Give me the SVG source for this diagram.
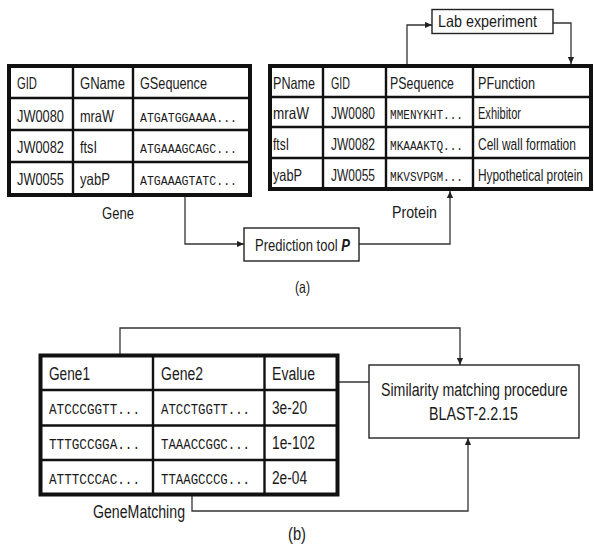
<svg xmlns="http://www.w3.org/2000/svg" width="594" height="547" viewBox="0 0 594 547">
<defs>
<marker id="ah" viewBox="0 0 8 8" refX="8" refY="4" markerWidth="7" markerHeight="7" markerUnits="userSpaceOnUse" orient="auto">
<path d="M0,0.5 L8,4 L0,7.5 Z" fill="#222"/>
</marker>
</defs>
<style>
.bg{fill:#fff}
.tbl{fill:#fff;stroke:#111;stroke-width:4}
.grid{stroke:#111;stroke-width:2.4;fill:none}
.box{fill:#fff;stroke:#222;stroke-width:1.4}
.con{fill:none;stroke:#333;stroke-width:1.3;marker-end:url(#ah)}
.t{font-family:"Liberation Sans",Arial,sans-serif;font-size:16.5px;fill:#1a1a1a}
.tb{font-family:"Liberation Sans",Arial,sans-serif;font-size:18px;fill:#1a1a1a}
.tl{font-family:"Liberation Sans",Arial,sans-serif;font-size:19px;fill:#1a1a1a}
.m{font-family:"Liberation Mono","Courier New",monospace;font-size:13px;fill:#1a1a1a}
.ms{font-family:"Liberation Mono","Courier New",monospace;font-size:12px;fill:#1a1a1a}
.mb{font-family:"Liberation Mono","Courier New",monospace;font-size:15px;fill:#1a1a1a}
</style>
<rect class="bg" x="0" y="0" width="594" height="547"/>

<g id="connectors">
<polyline class="con" points="185,196 185,244 244,244"/>
<polyline class="con" points="359,244 450,244 450,191"/>
<polyline class="con" points="407,64 407,25 432,25"/>
<polyline class="con" points="553,23 571,23 571,64"/>
<polyline class="con" points="120,354 120,328 460,328 460,365"/>
<polyline class="con" points="369,382 323,382"/>
<polyline class="con" points="192,496 192,511 468,511 468,438"/>
</g>

<g id="gene">
<rect class="tbl" x="9" y="66" width="241" height="129"/>
<path class="grid" d="M9,98 H250 M9,130 H250 M9,162 H250 M73,66 V195 M133,66 V195"/>
<text class="t" x="17" y="89" textLength="20" lengthAdjust="spacingAndGlyphs">GID</text>
<text class="t" x="80" y="89" textLength="45" lengthAdjust="spacingAndGlyphs">GName</text>
<text class="t" x="140" y="89" textLength="67" lengthAdjust="spacingAndGlyphs">GSequence</text>
<text class="t" x="17" y="122" textLength="47" lengthAdjust="spacingAndGlyphs">JW0080</text>
<text class="t" x="80" y="122" textLength="34" lengthAdjust="spacingAndGlyphs">mraW</text>
<text class="m" x="140" y="122" textLength="97" lengthAdjust="spacingAndGlyphs">ATGATGGAAAA...</text>
<text class="t" x="17" y="153" textLength="47" lengthAdjust="spacingAndGlyphs">JW0082</text>
<text class="t" x="80" y="153" textLength="17" lengthAdjust="spacingAndGlyphs">ftsI</text>
<text class="m" x="140" y="153" textLength="97" lengthAdjust="spacingAndGlyphs">ATGAAAGCAGC...</text>
<text class="t" x="17" y="185" textLength="47" lengthAdjust="spacingAndGlyphs">JW0055</text>
<text class="t" x="80" y="185" textLength="30" lengthAdjust="spacingAndGlyphs">yabP</text>
<text class="m" x="140" y="185" textLength="97" lengthAdjust="spacingAndGlyphs">ATGAAAGTATC...</text>
<text class="t" x="102" y="219" textLength="32" lengthAdjust="spacingAndGlyphs">Gene</text>
</g>

<g id="protein">
<rect class="tbl" x="270" y="66" width="321" height="123"/>
<path class="grid" d="M270,97 H591 M270,127 H591 M270,158 H591 M323,66 V189 M386,66 V189 M473,66 V189"/>
<text class="t" x="273" y="89" textLength="42" lengthAdjust="spacingAndGlyphs">PName</text>
<text class="t" x="331" y="89" textLength="19" lengthAdjust="spacingAndGlyphs">GID</text>
<text class="t" x="390" y="89" textLength="64" lengthAdjust="spacingAndGlyphs">PSequence</text>
<text class="t" x="478" y="89" textLength="57" lengthAdjust="spacingAndGlyphs">PFunction</text>
<text class="t" x="273" y="119" textLength="36" lengthAdjust="spacingAndGlyphs">mraW</text>
<text class="t" x="331" y="119" textLength="44" lengthAdjust="spacingAndGlyphs">JW0080</text>
<text class="ms" x="390" y="119" textLength="73" lengthAdjust="spacingAndGlyphs">MMENYKHT...</text>
<text class="t" x="478" y="119" textLength="43" lengthAdjust="spacingAndGlyphs">Exhibitor</text>
<text class="t" x="273" y="150" textLength="16" lengthAdjust="spacingAndGlyphs">ftsI</text>
<text class="t" x="331" y="150" textLength="44" lengthAdjust="spacingAndGlyphs">JW0082</text>
<text class="ms" x="390" y="150" textLength="73" lengthAdjust="spacingAndGlyphs">MKAAAKTQ...</text>
<text class="t" transform="translate(478,150) scale(0.727,1)">Cell wall formation</text>
<text class="t" x="273" y="181" textLength="29" lengthAdjust="spacingAndGlyphs">yabP</text>
<text class="t" x="331" y="181" textLength="44" lengthAdjust="spacingAndGlyphs">JW0055</text>
<text class="ms" x="390" y="181" textLength="73" lengthAdjust="spacingAndGlyphs">MKVSVPGM...</text>
<text class="t" transform="translate(478,181) scale(0.72,1)">Hypothetical protein</text>
<text class="t" x="392" y="218" textLength="45" lengthAdjust="spacingAndGlyphs">Protein</text>
</g>

<g id="lab">
<rect class="box" x="432" y="9.5" width="121" height="24"/>
<text class="t" x="438" y="27" textLength="99" lengthAdjust="spacingAndGlyphs">Lab experiment</text>
</g>

<g id="prediction">
<rect class="box" x="244" y="228" width="115" height="33"/>
<text class="t" transform="translate(255,251) scale(0.79,1)">Prediction tool <tspan font-weight="bold" font-style="italic">P</tspan></text>
</g>

<text class="t" x="295" y="293" textLength="15" lengthAdjust="spacingAndGlyphs">(a)</text>

<g id="genematching">
<rect class="tbl" x="40.5" y="355.5" width="297" height="139"/>
<path class="grid" d="M40.5,390 H337.5 M40.5,425.5 H337.5 M40.5,460 H337.5 M153,355.5 V494.5 M264.5,355.5 V494.5"/>
<text class="tb" x="49" y="380" textLength="41" lengthAdjust="spacingAndGlyphs">Gene1</text>
<text class="tb" x="161" y="380" textLength="42" lengthAdjust="spacingAndGlyphs">Gene2</text>
<text class="tb" x="272" y="380" textLength="43" lengthAdjust="spacingAndGlyphs">Evalue</text>
<text class="mb" x="49" y="414" textLength="91" lengthAdjust="spacingAndGlyphs">ATCCCGGTT...</text>
<text class="mb" x="161" y="414" textLength="89" lengthAdjust="spacingAndGlyphs">ATCCTGGTT...</text>
<text class="tb" x="272" y="414" textLength="35" lengthAdjust="spacingAndGlyphs">3e-20</text>
<text class="mb" x="49" y="449" textLength="91" lengthAdjust="spacingAndGlyphs">TTTGCCGGA...</text>
<text class="mb" x="161" y="449" textLength="89" lengthAdjust="spacingAndGlyphs">TAAACCGGC...</text>
<text class="tb" x="272" y="449" textLength="43" lengthAdjust="spacingAndGlyphs">1e-102</text>
<text class="mb" x="49" y="484" textLength="91" lengthAdjust="spacingAndGlyphs">ATTTCCCAC...</text>
<text class="mb" x="161" y="484" textLength="89" lengthAdjust="spacingAndGlyphs">TTAAGCCCG...</text>
<text class="tb" x="272" y="484" textLength="35" lengthAdjust="spacingAndGlyphs">2e-04</text>
<text class="tb" x="93" y="518" textLength="92" lengthAdjust="spacingAndGlyphs">GeneMatching</text>
</g>

<g id="blast">
<rect class="box" x="369" y="365" width="210" height="73"/>
<text class="tl" transform="translate(381,396) scale(0.747,1)">Similarity matching procedure</text>
<text class="tl" x="429" y="420" textLength="89" lengthAdjust="spacingAndGlyphs">BLAST-2.2.15</text>
</g>

<text class="tb" x="288" y="540" textLength="18" lengthAdjust="spacingAndGlyphs">(b)</text>
</svg>
